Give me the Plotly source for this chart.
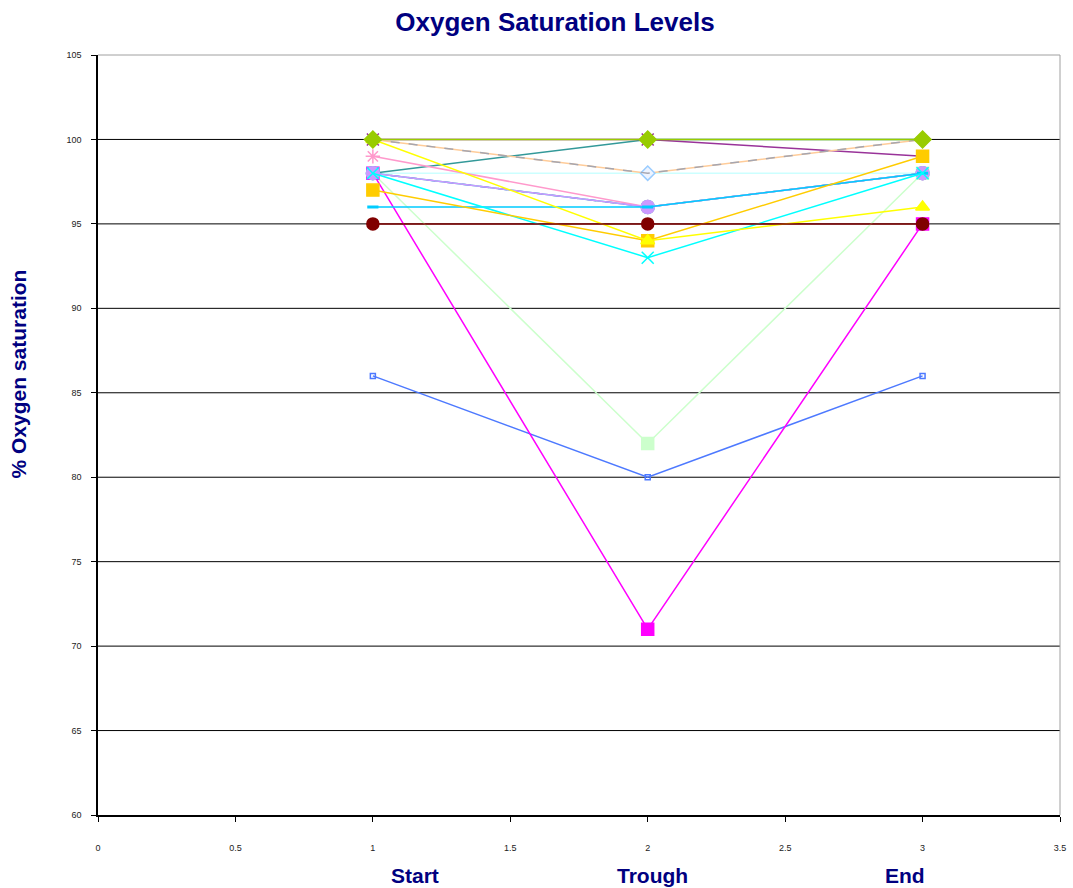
import plotly.graph_objects as go

# Measurement points (1 = Start, 2 = Trough, 3 = End)
points = [1, 2, 3]

# % oxygen saturation per patient at each point
p_blue = [86, 80, 86]
p_magenta = [98, 71, 95]
p_yellow = [100, 94, 96]
p_cyan = [98, 93, 98]
p_purple = [100, 100, 99]
p_teal = [98, 100, 100]
p_gold = [97, 94, 99]
p_peach = [100, 98, 100]
p_grey = [100, 98, 100]
p_pink = [99, 96, 98]
p_steel = [98, 96, 98]
p_turq = [98, 96, 98]
p_lavender = [98, 96, 98]
p_sky = [96, 96, 98]
p_paleblue = [98, 98, 98]
p_palegreen = [98, 82, 98]
p_darkred = [95, 95, 95]
p_lime = [100, 100, 100]

y_ticks = [60, 65, 70, 75, 80, 85, 90, 95, 100, 105]
x_ticks = [0, 0.5, 1, 1.5, 2, 2.5, 3, 3.5]
x_tick_text = ["0", "0.5", "1", "1.5", "2", "2.5", "3", "3.5"]
phase_labels = ["Start", "Trough", "End"]

NAVY = "#000080"
FONT = "Arial, Liberation Sans"

# (values, colour, marker symbol, marker size, line dash)
series = [
    (p_paleblue, "#CCFFFF", None, 0, "solid"),
    (p_palegreen, "#CCFFCC", "square", 12, "solid"),
    (p_blue, "#4D79FF", "square-open", 5, "solid"),
    (p_magenta, "#FF00FF", "square", 12, "solid"),
    (p_teal, "#339999", None, 0, "solid"),
    (p_purple, "#993399", "x-thin-open", 12, "solid"),
    (p_peach, "#FFCC99", "diamond", 11, "solid"),
    (p_grey, "#A6A6B0", None, 0, "dash"),
    (p_turq, "#33CCCC", "circle", 13, "solid"),
    (p_steel, "#6699DD", None, 0, "dash"),
    (p_pink, "#FF99CC", "asterisk-open", 12, "solid"),
    (p_lavender, "#CC99FF", "circle", 13, "solid"),
    (p_sky, "#00CCFF", "line-ew-open", 8, "solid"),
    (p_cyan, "#00FFFF", "x-thin-open", 12, "solid"),
    (p_gold, "#FFCC00", "square", 12, "solid"),
    (p_yellow, "#FFFF00", "triangle-up", 12, "solid"),
    (p_darkred, "#800000", "circle", 12, "solid"),
    (p_lime, "#99CC00", "diamond", 13, "solid"),
]

fig = go.Figure()
for vals, col, sym, size, dash in series:
    mode = "lines+markers" if sym else "lines"
    marker = dict(symbol=sym or "circle", size=size, color=col,
                  line=dict(color=col, width=1.5))
    if col == "#FFCC99":
        marker = dict(symbol=sym, size=size, color="#EEF4FF",
                      line=dict(color="#99CCFF", width=1.5))
    if sym == "line-ew-open":
        marker["line"] = dict(color=col, width=3)
    fig.add_trace(go.Scatter(
        x=points, y=vals, mode=mode,
        line=dict(color=col, width=1.5, dash=dash),
        marker=marker, showlegend=False, hoverinfo="x+y",
    ))

# Horizontal gridlines at the inner y ticks; top and right edges as a grey frame
for yv in y_ticks[1:-1]:
    fig.add_shape(type="line", xref="paper", yref="y", x0=0, x1=1, y0=yv, y1=yv,
                  line=dict(color="#000000", width=1), layer="below")
fig.add_shape(type="line", xref="paper", yref="paper", x0=0, x1=1, y0=1, y1=1,
              line=dict(color="#A0A0A0", width=1), layer="below")
fig.add_shape(type="line", xref="paper", yref="paper", x0=1, x1=1, y0=0, y1=1,
              line=dict(color="#A0A0A0", width=1), layer="below")

# Phase labels under the x axis
label_px = [417, 656, 910]
for txt, px in zip(phase_labels, label_px):
    fig.add_annotation(text=f"<b>{txt}</b>", xref="paper", yref="paper",
                       x=(px - 98) / 968, y=-0.08, xanchor="center", yanchor="middle",
                       showarrow=False,
                       font=dict(family=FONT, size=21, color=NAVY))

fig.add_annotation(text="<b>% Oxygen saturation</b>", xref="paper", yref="paper",
                   x=(18 - 98) / 968, y=(815 - 374) / 760, textangle=-90,
                   xanchor="center", yanchor="middle", showarrow=False,
                   font=dict(family=FONT, size=21, color=NAVY))

fig.update_layout(
    width=1073, height=888,
    margin=dict(l=98, r=7, t=55, b=73),
    paper_bgcolor="white", plot_bgcolor="white",
    title=dict(text="<b>Oxygen Saturation Levels</b>", x=555 / 1073, xanchor="center",
               y=1 - 22 / 888, yanchor="middle",
               font=dict(family=FONT, size=26, color=NAVY)),
    xaxis=dict(range=[0, 3.5], tickvals=x_ticks, ticktext=x_tick_text,
               showgrid=False, zeroline=False, showline=True, linecolor="#000000",
               linewidth=1.5, ticks="outside", ticklen=5, tickcolor="#000000",
               ticklabelstandoff=18,
               tickfont=dict(family=FONT, size=9, color="#222222")),
    yaxis=dict(range=[60, 105], tickvals=y_ticks, showgrid=False, zeroline=False,
               showline=True, linecolor="#000000", linewidth=1.5, ticks="outside",
               ticklen=5, tickcolor="#000000", ticklabelstandoff=8,
               tickfont=dict(family=FONT, size=9, color="#222222")),
)

fig.write_html("out.html")
